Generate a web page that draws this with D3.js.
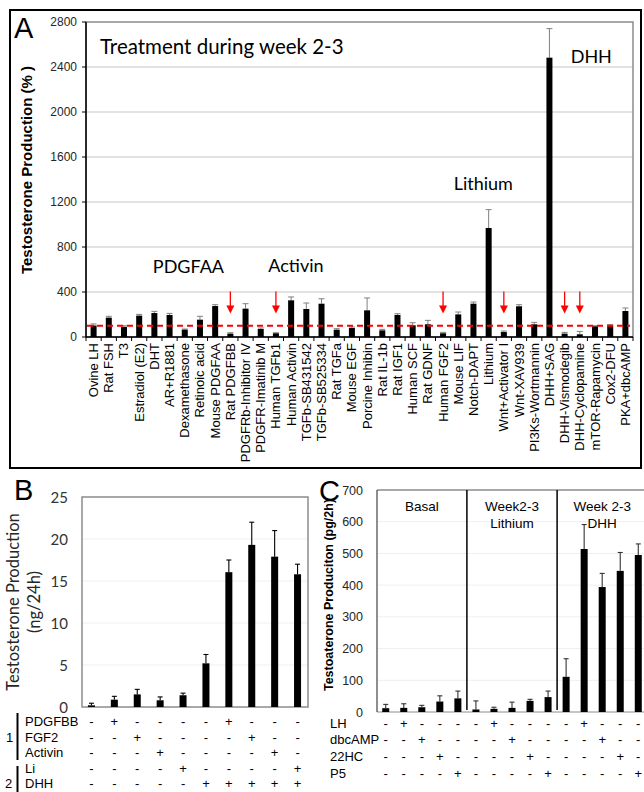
<!DOCTYPE html>
<html>
<head>
<meta charset="utf-8">
<script src="https://cdn.jsdelivr.net/npm/d3@7"></script>
<style>
  body { margin: 0; background: #fff; }
  text { font-family: "Liberation Sans", Arial, sans-serif; }
  .cal { font-family: Lato, "Open Sans", sans-serif; }
</style>
</head>
<body>
<script>
// ---------- panel A data ----------
const treatA = ["Ovine LH", "Rat FSH", "T3", "Estradiol (E2)", "DHT", "AR+R1881", "Dexamethasone",
  "Retinoic acid", "Mouse PDGFAA", "Rat PDGFBB", "PDGFRb-Inhibitor IV", "PDGFR-Imatinib M",
  "Human TGFb1", "Human Activin", "TGFb-SB431542", "TGFb-SB525334", "Rat TGFa", "Mouse EGF",
  "Porcine Inhibin", "Rat IL-1b", "Rat IGF1", "Human SCF", "Rat GDNF", "Human FGF2", "Mouse LIF",
  "Notch-DAPT", "Lithium", "Wnt+Activator I", "Wnt-XAV939", "PI3Ks-Wortmannin", "DHH+SAG",
  "DHH-Vismodegib", "DHH-Cyclopamine", "mTOR-Rapamycin", "Cox2-DFU", "PKA+dbcAMP"];
const valuesA = [102, 172, 90, 190, 213, 196, 65, 154, 275, 30, 252, 71, 33, 326, 249, 296, 65, 80,
  237, 59, 196, 104, 113, 33, 201, 296, 969, 44, 273, 113, 2483, 30, 24, 95, 104, 231];
const errorsA = [14, 12, 10, 11, 15, 14, 6, 30, 12, 8, 44, 9, 5, 30, 53, 44, 9, 9,
  110, 9, 11, 23, 35, 8, 21, 15, 163, 9, 14, 17, 258, 11, 26, 5, 6, 27];
const arrowsA = ["Rat PDGFBB", "Human TGFb1", "Human FGF2", "Wnt+Activator I", "DHH-Vismodegib", "DHH-Cyclopamine"];
const ticksA = [0, 400, 800, 1200, 1600, 2000, 2400, 2800];
const controlA = 100;
const notesA = [
  { text: "PDGFAA", pos: 4.4, v: 566 },
  { text: "Activin", pos: 12.0, v: 580 },
  { text: "Lithium", pos: 24.2, v: 1311 },
  { text: "DHH", pos: 31.9, v: 2440 }
];

// ---------- panel B data ----------
const colsB = ["b1", "b2", "b3", "b4", "b5", "b6", "b7", "b8", "b9", "b10"];
const valuesB = [0.2, 0.87, 1.5, 0.8, 1.4, 5.2, 16.05, 19.3, 17.9, 15.8];
const errorsB = [0.25, 0.4, 0.6, 0.4, 0.25, 1.05, 1.45, 2.7, 3.1, 1.2];
const ticksB = [0, 5, 10, 15, 20, 25];
const rowsB = ["PDGFBB", "FGF2", "Activin", "Li", "DHH"];
const signsB = [
  "-+----+---",
  "--+----+--",
  "---+----+-",
  "----+----+",
  "-----+++++"
];

// ---------- panel C data ----------
const colsC = d3.range(15).map(i => "c" + i);
const valuesC = [12, 13, 15, 33, 43, 8, 10, 13, 35, 47, 111, 514, 394, 445, 495];
const errorsC = [12, 13, 6, 18, 23, 27, 5, 18, 5, 19, 57, 77, 43, 58, 35];
const ticksC = [0, 100, 200, 300, 400, 500, 600, 700];
const groupsC = [["Basal"], ["Week2-3", "Lithium"], ["Week 2-3", "DHH"]];
const rowsC = ["LH", "dbcAMP", "22HC", "P5"];
const signsC = [
  "-+----+----+---",
  "--+----+----+--",
  "---+----+----+-",
  "----+----+----+"
];

const svg = d3.select("body").append("svg")
  .attr("width", 644).attr("height", 792);

// ================= Panel A =================
const xA = d3.scaleBand().domain(treatA).range([86, 633]);
const yA = d3.scaleLinear().domain([0, 2800]).range([337, 22]);
const gA = svg.append("g");

gA.append("rect").attr("x", 10).attr("y", 10).attr("width", 631).attr("height", 458)
  .attr("fill", "none").attr("stroke", "#000").attr("stroke-width", 2);

gA.selectAll(".gridA").data(ticksA.slice(1, -1)).enter().append("line")
  .attr("x1", 86).attr("x2", 633).attr("y1", d => yA(d)).attr("y2", d => yA(d))
  .attr("stroke", "#d9d9d9").attr("stroke-width", 1.5);

gA.append("rect").attr("x", 86).attr("y", 22).attr("width", 547).attr("height", 315)
  .attr("fill", "none").attr("stroke", "#8c8c8c").attr("stroke-width", 1.5);

// left axis
gA.append("line").attr("x1", 86).attr("x2", 86).attr("y1", 22).attr("y2", 337)
  .attr("stroke", "#000").attr("stroke-width", 1.5);
gA.selectAll(".tickA").data(ticksA).enter().append("line")
  .attr("x1", 82).attr("x2", 86).attr("y1", d => yA(d)).attr("y2", d => yA(d))
  .attr("stroke", "#000");
gA.selectAll(".tlA").data(ticksA).enter().append("text")
  .attr("x", 77).attr("y", d => yA(d) + 4)
  .attr("text-anchor", "end").attr("font-size", 12).attr("fill", "#262626")
  .text(d => d);

// bottom axis
gA.append("line").attr("x1", 86).attr("x2", 633).attr("y1", 337).attr("y2", 337)
  .attr("stroke", "#000").attr("stroke-width", 1.5);
gA.selectAll(".btA").data(d3.range(treatA.length + 1)).enter().append("line")
  .attr("x1", i => 86 + i * xA.bandwidth()).attr("x2", i => 86 + i * xA.bandwidth())
  .attr("y1", 337).attr("y2", 341).attr("stroke", "#000");

gA.selectAll(".xlA").data(treatA).enter().append("text")
  .attr("transform", d => `translate(${xA(d) + xA.bandwidth() / 2 + 4.5},343) rotate(-90)`)
  .attr("text-anchor", "end").attr("font-size", 13).text(d => d);

// bars + error bars
const bwA = 6;
gA.selectAll(".errA").data(treatA).enter().append("line")
  .attr("x1", (d, i) => xA(d) + xA.bandwidth() / 2).attr("x2", (d, i) => xA(d) + xA.bandwidth() / 2)
  .attr("y1", (d, i) => yA(valuesA[i])).attr("y2", (d, i) => yA(valuesA[i] + errorsA[i]))
  .attr("stroke", "#808080").attr("stroke-width", 1);
gA.selectAll(".capA").data(treatA).enter().append("line")
  .attr("x1", (d, i) => xA(d) + xA.bandwidth() / 2 - 3).attr("x2", (d, i) => xA(d) + xA.bandwidth() / 2 + 3)
  .attr("y1", (d, i) => yA(valuesA[i] + errorsA[i])).attr("y2", (d, i) => yA(valuesA[i] + errorsA[i]))
  .attr("stroke", "#808080").attr("stroke-width", 1);
gA.selectAll(".barA").data(treatA).enter().append("rect")
  .attr("x", d => xA(d) + xA.bandwidth() / 2 - bwA / 2)
  .attr("y", (d, i) => yA(valuesA[i]))
  .attr("width", bwA)
  .attr("height", (d, i) => yA(0) - yA(valuesA[i]))
  .attr("fill", "#000");

// control line
gA.append("line").attr("x1", 87).attr("x2", 630)
  .attr("y1", yA(controlA)).attr("y2", yA(controlA))
  .attr("stroke", "#ff0000").attr("stroke-width", 1.8).attr("stroke-dasharray", "6,4");

// red arrows
const arrTop = yA(404), arrTip = yA(210);
arrowsA.forEach(name => {
  const cx = xA(name) + xA.bandwidth() / 2;
  gA.append("line").attr("x1", cx).attr("x2", cx).attr("y1", arrTop).attr("y2", arrTip - 6)
    .attr("stroke", "#ff0000").attr("stroke-width", 1.3);
  gA.append("path")
    .attr("d", `M${cx - 4},${arrTip - 8} L${cx + 4},${arrTip - 8} L${cx},${arrTip} Z`)
    .attr("fill", "#ff0000");
});

// annotations
notesA.forEach(n => {
  gA.append("text").attr("class", "cal")
    .attr("x", 86 + n.pos * xA.bandwidth()).attr("y", yA(n.v))
    .attr("font-size", 18).text(n.text);
});
gA.append("text").attr("class", "cal").attr("x", 100).attr("y", 54)
  .attr("font-size", 20.5).text("Treatment during week 2-3");
gA.append("text").attr("x", 14).attr("y", 38).attr("font-size", 29).text("A");

gA.append("text")
  .attr("transform", "translate(32,170) rotate(-90)")
  .attr("text-anchor", "middle").attr("font-size", 15).attr("font-weight", "bold")
  .text("Testosterone Production (% )");

// ================= Panel B =================
const xB = d3.scaleBand().domain(colsB).range([80, 309]);
const yB = d3.scaleLinear().domain([0, 25]).range([707, 497]);
const gB = svg.append("g");

gB.selectAll(".gridB").data(ticksB.slice(1, -1)).enter().append("line")
  .attr("x1", 82).attr("x2", 308).attr("y1", d => yB(d)).attr("y2", d => yB(d))
  .attr("stroke", "#efefef").attr("stroke-width", 1);
gB.append("rect").attr("x", 82).attr("y", 497).attr("width", 226).attr("height", 210)
  .attr("fill", "none").attr("stroke", "#8c8c8c").attr("stroke-width", 1.5);
gB.selectAll(".tlB").data(ticksB).enter().append("text").attr("class", "cal")
  .attr("x", 68).attr("y", d => yB(d) + 5.5)
  .attr("text-anchor", "end").attr("font-size", 15).attr("fill", "#333")
  .text(d => d);

const bwB = 7;
gB.selectAll(".errB").data(colsB).enter().append("line")
  .attr("x1", d => xB(d) + xB.bandwidth() / 2).attr("x2", d => xB(d) + xB.bandwidth() / 2)
  .attr("y1", (d, i) => yB(valuesB[i])).attr("y2", (d, i) => yB(valuesB[i] + errorsB[i]))
  .attr("stroke", "#000").attr("stroke-width", 1.1);
gB.selectAll(".capB").data(colsB).enter().append("line")
  .attr("x1", d => xB(d) + xB.bandwidth() / 2 - 2.5).attr("x2", d => xB(d) + xB.bandwidth() / 2 + 2.5)
  .attr("y1", (d, i) => yB(valuesB[i] + errorsB[i])).attr("y2", (d, i) => yB(valuesB[i] + errorsB[i]))
  .attr("stroke", "#000").attr("stroke-width", 1.1);
gB.selectAll(".barB").data(colsB).enter().append("rect")
  .attr("x", d => xB(d) + xB.bandwidth() / 2 - bwB / 2)
  .attr("y", (d, i) => yB(valuesB[i]))
  .attr("width", bwB)
  .attr("height", (d, i) => yB(0) - yB(valuesB[i]))
  .attr("fill", "#000");

gB.append("text").attr("class", "cal")
  .attr("transform", "translate(0,602) rotate(-90)")
  .attr("text-anchor", "middle").attr("font-size", 16.5).attr("fill", "#262626")
  .selectAll("tspan").data(["Testosterone Production", "(ng/24h)"]).enter().append("tspan")
  .attr("x", 0).attr("y", (d, i) => 19 + i * 21).text(d => d);

gB.append("text").attr("x", 14).attr("y", 500).attr("font-size", 29).text("B");

// table B
const rowYB = [726, 741.5, 757, 772.5, 787.5];
rowsB.forEach((r, ri) => {
  gB.append("text").attr("x", 25).attr("y", rowYB[ri]).attr("font-size", 13).text(r);
  signsB[ri].split("").forEach((s, ci) => {
    gB.append("text").attr("x", xB(colsB[ci]) + xB.bandwidth() / 2).attr("y", rowYB[ri])
      .attr("text-anchor", "middle").attr("font-size", 13).text(s);
  });
});
gB.append("line").attr("x1", 17.5).attr("x2", 17.5).attr("y1", 713).attr("y2", 760)
  .attr("stroke", "#000").attr("stroke-width", 2);
gB.append("line").attr("x1", 17.5).attr("x2", 17.5).attr("y1", 766).attr("y2", 792)
  .attr("stroke", "#000").attr("stroke-width", 2);
gB.append("text").attr("x", 6).attr("y", 742).attr("font-size", 13).text("1");
gB.append("text").attr("x", 5).attr("y", 787.5).attr("font-size", 13).text("2");

// ================= Panel C =================
const xC = d3.scaleBand().domain(colsC).range([376.7, 647.3]);
const yC = d3.scaleLinear().domain([0, 700]).range([712, 490]);
const gC = svg.append("g");

gC.selectAll(".gridC").data(ticksC.slice(1, -1)).enter().append("line")
  .attr("x1", 377).attr("x2", 644).attr("y1", d => yC(d)).attr("y2", d => yC(d))
  .attr("stroke", "#efefef").attr("stroke-width", 1);
gC.append("line").attr("x1", 377).attr("x2", 644).attr("y1", 490).attr("y2", 490)
  .attr("stroke", "#8c8c8c").attr("stroke-width", 1.5);
gC.append("line").attr("x1", 377).attr("x2", 644).attr("y1", 712).attr("y2", 712)
  .attr("stroke", "#8c8c8c").attr("stroke-width", 1);
gC.append("line").attr("x1", 377).attr("x2", 377).attr("y1", 490).attr("y2", 712)
  .attr("stroke", "#444").attr("stroke-width", 1.2);
gC.selectAll(".tlC").data(ticksC).enter().append("text")
  .attr("x", 363).attr("y", d => yC(d) + 4.5)
  .attr("text-anchor", "end").attr("font-size", 12.5).attr("fill", "#262626")
  .text(d => d);

// group dividers
[5, 10].forEach(k => {
  const gx = xC(colsC[k]);
  gC.append("line").attr("x1", gx).attr("x2", gx).attr("y1", 490).attr("y2", 710)
    .attr("stroke", "#000").attr("stroke-width", 1.5);
});
groupsC.forEach((lines, gi) => {
  const cx = xC(colsC[gi * 5 + 2]) + xC.bandwidth() / 2;
  lines.forEach((t, li) => {
    gC.append("text").attr("x", cx).attr("y", 511 + li * 16.5)
      .attr("text-anchor", "middle").attr("font-size", 13.5).text(t);
  });
});

const bwC = 7;
gC.selectAll(".errC").data(colsC).enter().append("line")
  .attr("x1", d => xC(d) + xC.bandwidth() / 2).attr("x2", d => xC(d) + xC.bandwidth() / 2)
  .attr("y1", (d, i) => yC(valuesC[i])).attr("y2", (d, i) => yC(valuesC[i] + errorsC[i]))
  .attr("stroke", "#333").attr("stroke-width", 1.1);
gC.selectAll(".capC").data(colsC).enter().append("line")
  .attr("x1", d => xC(d) + xC.bandwidth() / 2 - 2.5).attr("x2", d => xC(d) + xC.bandwidth() / 2 + 2.5)
  .attr("y1", (d, i) => yC(valuesC[i] + errorsC[i])).attr("y2", (d, i) => yC(valuesC[i] + errorsC[i]))
  .attr("stroke", "#333").attr("stroke-width", 1.1);
gC.selectAll(".barC").data(colsC).enter().append("rect")
  .attr("x", d => xC(d) + xC.bandwidth() / 2 - bwC / 2)
  .attr("y", (d, i) => yC(valuesC[i]))
  .attr("width", bwC)
  .attr("height", (d, i) => yC(0) - yC(valuesC[i]))
  .attr("fill", "#000");

gC.append("text")
  .attr("transform", "translate(333,595) rotate(-90)")
  .attr("text-anchor", "middle").attr("font-size", 12.5).attr("font-weight", "bold")
  .text("Testoaterone Produciton (pg/2h)");
gC.append("text").attr("x", 319).attr("y", 501).attr("font-size", 29).text("C");

// table C
const rowYC = [727.5, 744, 761, 777.5];
rowsC.forEach((r, ri) => {
  gC.append("text").attr("x", 330).attr("y", rowYC[ri]).attr("font-size", 13).text(r);
  signsC[ri].split("").forEach((s, ci) => {
    gC.append("text").attr("x", xC(colsC[ci]) + xC.bandwidth() / 2).attr("y", rowYC[ri])
      .attr("text-anchor", "middle").attr("font-size", 13).text(s);
  });
});
</script>
</body>
</html>
